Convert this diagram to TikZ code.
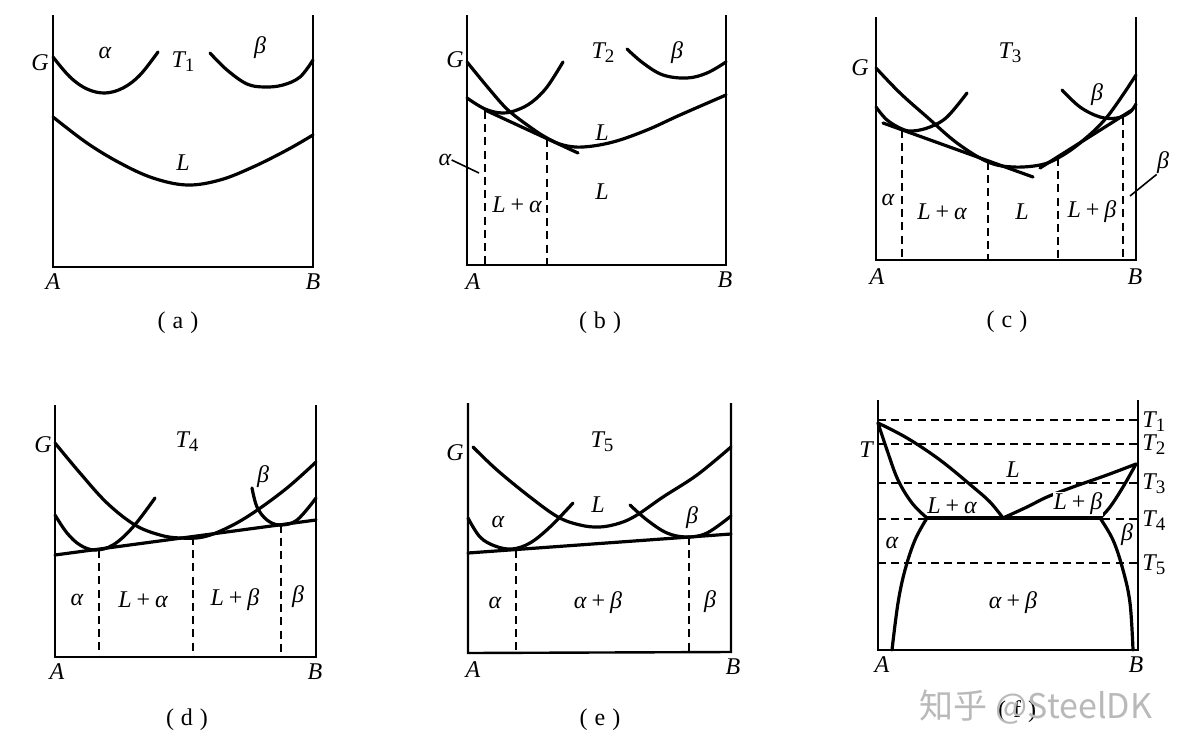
\documentclass[tikz,border=0pt]{standalone}
\usepackage{fontspec}
\setmainfont{Liberation Serif}
\newfontfamily\cjk{Noto Sans CJK SC}
\newcommand\Tsb[1]{T\raisebox{-0.35ex}{\upshape\fontsize{9.5}{10}\selectfont #1}}
\newcommand\pls{\hspace{2.5pt}{\upshape+}\hspace{2.5pt}}
\begin{document}
\begin{tikzpicture}[x=0.5pt,y=-0.5pt,
  ax/.style={line width=1.2pt},
  crv/.style={line width=1.6pt,line cap=round,line join=round},
  dsh/.style={line width=1.1pt,dash pattern=on 4pt off 2.6pt},
  lab/.style={font=\fontsize{12}{14}\selectfont\itshape,inner sep=0pt},
  subcap/.style={font=\fontsize{12}{14}\selectfont,inner sep=0pt},
  lead/.style={line width=0.8pt}]
\useasboundingbox[fill=white] (0,0) rectangle (1188,755);

% ---------------- (a)
\draw[ax] (53,15) -- (53,267) -- (313,267) -- (313,15);
\draw[crv] plot[smooth,tension=0.6] coordinates {(53,57) (70,77) (87,89) (105,93) (123,88) (140,75) (158,52)};
\draw[crv] plot[smooth,tension=0.6] coordinates {(210,53) (227,70) (247,84) (265,87) (283,85) (300,77) (313,60)};
\draw[crv] plot[smooth,tension=0.6] coordinates {(53,117) (87,143) (120,163) (153,178) (187,185) (220,180) (253,167) (287,150) (313,135)};
\node[lab] (aG) at (40,63) {G};
\node[lab] (aal) at (105,53) {α};
\node[lab] (aT) at (183,62) {\Tsb{1}};
\node[lab] (abe) at (260,48) {β};
\node[lab] (aL) at (183,163) {L};
\node[lab] (aA) at (53,282) {A};
\node[lab] (aB) at (313,282) {B};
\node[subcap] (acap) at (178,323) {(\hspace{3.5pt}a\hspace{3.5pt})};

% ---------------- (b)
\draw[ax] (467,15) -- (467,265) -- (726,265) -- (726,15);
\draw[crv] plot[smooth,tension=0.6] coordinates {(467,62) (490,90) (508,110) (530,127) (547,138) (563,145) (583,147) (613,142) (647,130) (680,115) (726,95)};
\draw[crv] plot[smooth,tension=0.6] coordinates {(467,98) (485,109) (502,113) (517,110) (532,102) (547,87) (563,62)};
\draw[crv] (485,110) -- (578,153);
\draw[crv] plot[smooth,tension=0.6] coordinates {(627,49) (643,63) (663,75) (687,78) (707,73) (726,62)};
\draw[dsh] (485,111) -- (485,265);
\draw[dsh] (547,139) -- (547,265);
\node[lab] (bG) at (455,60) {G};
\node[lab] (bT) at (603,53) {\Tsb{2}};
\node[lab] (bbe) at (677,53) {β};
\node[lab] (bL1) at (602,133) {L};
\node[lab] (bL2) at (602,192) {L};
\node[lab] (bLa) at (517,205) {L\pls α};
\node[lab] (bal) at (445,160) {α};
\coordinate (bleadend) at (479,173);
\draw[lead] (bal.east) -- (bleadend);
\node[lab] (bA) at (473,282) {A};
\node[lab] (bB) at (725,280) {B};
\node[subcap] (bcap) at (600,323) {(\hspace{3.5pt}b\hspace{3.5pt})};

% ---------------- (c)
\draw[ax] (876,17) -- (876,260) -- (1136,260) -- (1136,17);
\draw[crv] plot[smooth,tension=0.6] coordinates {(876,68) (900,93) (927,117) (957,143) (988,162) (1013,167) (1040,165) (1058,158) (1080,143) (1107,117) (1136,75)};
\draw[crv] plot[smooth,tension=0.6] coordinates {(876,107) (887,120) (902,129) (913,131) (930,127) (947,117) (967,93)};
\draw[crv] plot[smooth,tension=0.6] coordinates {(1062,90) (1080,107) (1100,117) (1117,118) (1130,112) (1136,104)};
\draw[crv] (883,123) -- (1033,177);
\draw[crv] (1040,168) -- (1132,110);
\draw[dsh] (902,130) -- (902,260);
\draw[dsh] (988,162) -- (988,260);
\draw[dsh] (1058,158) -- (1058,260);
\draw[dsh] (1123,117) -- (1123,260);
\node[lab] (cG) at (860,68) {G};
\node[lab] (cT) at (1010,53) {\Tsb{3}};
\node[lab] (cbe) at (1097,95) {β};
\node[lab] (cal) at (888,200) {α};
\node[lab] (cLa) at (942,212) {L\pls α};
\node[lab] (cL) at (1022,212) {L};
\node[lab] (cLb) at (1092,212) {L\pls β};
\node[lab] (cbe2) at (1163,163) {β};
\coordinate (cleadend) at (1130,196);
\draw[lead] (cbe2.south west) -- (cleadend);
\node[lab] (cA) at (877,277) {A};
\node[lab] (cB) at (1135,277) {B};
\node[subcap] (ccap) at (1007,322) {(\hspace{3.5pt}c\hspace{3.5pt})};

% ---------------- (d)
\draw[ax] (55,405) -- (55,657) -- (316,657) -- (316,405);
\draw[crv] plot[smooth,tension=0.6] coordinates {(55,443) (80,473) (107,503) (135,525) (160,535) (180,538) (203,537) (227,528) (253,513) (287,488) (316,462)};
\draw[crv] plot[smooth,tension=0.6] coordinates {(55,515) (67,533) (80,545) (95,550) (113,545) (133,527) (155,498)};
\draw[crv] plot[smooth,tension=0.6] coordinates {(252,488) (257,507) (267,520) (280,525) (297,520) (316,498)};
\draw[crv] (55,555) -- (316,520);
\draw[dsh] (99,550) -- (99,657);
\draw[dsh] (193,537) -- (193,657);
\draw[dsh] (281,525) -- (281,657);
\node[lab] (dG) at (43,445) {G};
\node[lab] (dT) at (187,442) {\Tsb{4}};
\node[lab] (dbe) at (263,477) {β};
\node[lab] (dal) at (77,600) {α};
\node[lab] (dLa) at (143,600) {L\pls α};
\node[lab] (dLb) at (235,600) {L\pls β};
\node[lab] (dbe2) at (298,597) {β};
\node[lab] (dA) at (57,672) {A};
\node[lab] (dB) at (315,672) {B};
\node[subcap] (dcap) at (187,720) {(\hspace{3.5pt}d\hspace{3.5pt})};

% ---------------- (e)
\draw[ax] (468,403) -- (468,653) -- (731,652) -- (731,403);
\draw[crv] plot[smooth,tension=0.6] coordinates {(473,447) (497,470) (530,497) (558,517) (580,525) (600,527) (620,523) (637,515) (663,497) (697,475) (731,447)};
\draw[crv] plot[smooth,tension=0.6] coordinates {(468,518) (480,537) (495,546) (512,549) (530,543) (550,527) (573,503)};
\draw[crv] plot[smooth,tension=0.6] coordinates {(630,505) (647,520) (667,533) (687,537) (707,533) (731,516)};
\draw[crv] (468,553) -- (731,534);
\draw[dsh] (516,550) -- (516,653);
\draw[dsh] (689,537) -- (689,652);
\node[lab] (eG) at (455,453) {G};
\node[lab] (eT) at (602,442) {\Tsb{5}};
\node[lab] (eL) at (598,505) {L};
\node[lab] (eal) at (498,522) {α};
\node[lab] (ebe) at (692,518) {β};
\node[lab] (eal2) at (495,603) {α};
\node[lab] (eab) at (598,603) {α\pls β};
\node[lab] (ebe2) at (710,602) {β};
\node[lab] (eA) at (473,670) {A};
\node[lab] (eB) at (733,667) {B};
\node[subcap] (ecap) at (600,720) {(\hspace{3.5pt}e\hspace{3.5pt})};

% ---------------- (f)
\foreach \yy in {420,444,483,519,563} \draw[dsh] (878,\yy) -- (1138,\yy);
\draw[ax] (878,400) -- (878,650) -- (1138,650) -- (1138,400);
\draw[crv] plot[smooth,tension=0.6] coordinates {(878,423) (907,438) (940,460) (973,487) (990,502) (1003,518)};
\draw[crv] plot[smooth,tension=0.6] coordinates {(878,423) (887,450) (898,480) (912,503) (927,518)};
\draw[crv] plot[smooth,tension=0.6] coordinates {(927,518) (915,540) (905,570) (898,603) (892,650)};
\draw[crv] (927,518) -- (1100,518);
\draw[crv] plot[smooth,tension=0.6] coordinates {(1003,518) (1027,507) (1047,497) (1073,487) (1107,475) (1136,464)};
\draw[crv] plot[smooth,tension=0.6] coordinates {(1136,464) (1123,487) (1110,507) (1100,518)};
\draw[crv] plot[smooth,tension=0.6] coordinates {(1100,518) (1113,540) (1123,570) (1130,603) (1133,650)};
\node[lab] (fT) at (866,450) {T};
\node[lab,anchor=west] (fT1) at (1142,422) {\Tsb{1}};
\node[lab,anchor=west] (fT2) at (1142,445) {\Tsb{2}};
\node[lab,anchor=west] (fT3) at (1142,484) {\Tsb{3}};
\node[lab,anchor=west] (fT4) at (1142,521) {\Tsb{4}};
\node[lab,anchor=west] (fT5) at (1142,565) {\Tsb{5}};
\node[lab] (fL) at (1013,470) {L};
\node[lab] (fLa) at (952,506) {L\pls α};
\node[lab,fill=white,inner sep=0.5pt] (fLb) at (1078,504) {L\pls β};
\node[lab] (fal) at (892,543) {α};
\node[lab] (fbe) at (1127,535) {β};
\node[lab] (fab) at (1013,603) {α\pls β};
\node[lab] (fA) at (882,665) {A};
\node[lab] (fB) at (1136,665) {B};
\node[subcap] (fcap) at (1017,712) {(\hspace{3.5pt}f\hspace{3.5pt})};
\node[inner sep=0pt,text=gray!55,font=\cjk\fontsize{17}{20}\selectfont] (wm) at (1036,707) {知乎 @SteelDK};
\end{tikzpicture}
\end{document}
